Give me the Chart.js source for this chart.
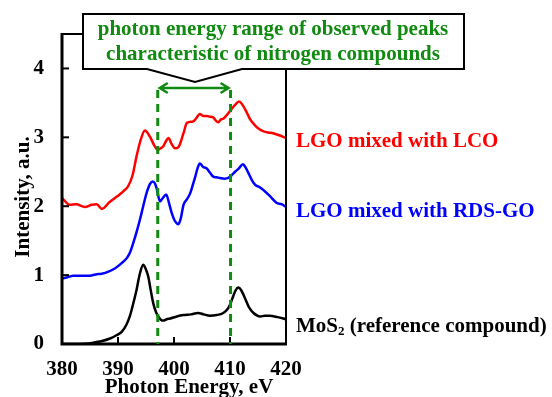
<!DOCTYPE html>
<html>
<head>
<meta charset="utf-8">
<script src="https://cdn.jsdelivr.net/npm/chart.js@4.4.1/dist/chart.umd.min.js"></script>
<style>
  html, body { margin: 0; padding: 0; background: #fff; }
  #wrap { width: 552px; height: 397px; position: relative; }
</style>
</head>
<body>
<div id="wrap"><canvas id="chart"></canvas></div>
<script>
// Data
let energyLco = [380, 381.4, 382.5, 384.1, 385.3, 386.2, 387.1, 388.5, 389.8, 391.0, 391.8, 392.6, 393.3, 394.0, 394.8, 395.7, 396.5, 397.1, 397.6, 398.1, 398.6, 399.0, 399.6, 400.2, 400.8, 401.7, 402.3, 403.4, 404.0, 404.6, 405.2, 405.8, 406.4, 407.0, 407.5, 407.9, 408.4, 408.8, 409.4, 410.0, 410.9, 411.6, 412.4, 413.0, 413.6, 414.5, 415.2, 415.9, 416.8, 417.7, 418.8, 420];
let intensityLco = [2.12, 2.02, 2.03, 1.99, 2.02, 2.03, 1.96, 2.06, 2.14, 2.22, 2.29, 2.45, 2.72, 2.95, 3.10, 3.01, 2.88, 2.82, 2.84, 2.87, 2.95, 2.99, 2.90, 2.84, 2.86, 3.06, 3.21, 3.23, 3.28, 3.34, 3.31, 3.31, 3.30, 3.29, 3.24, 3.22, 3.26, 3.27, 3.32, 3.38, 3.47, 3.52, 3.45, 3.36, 3.26, 3.17, 3.12, 3.09, 3.07, 3.06, 3.03, 2.99];

let energyRds = [380, 381, 382, 383.5, 385, 386, 387.1, 388.3, 389.5, 390.6, 391.6, 392.2, 392.7, 393.3, 393.9, 394.5, 395.1, 395.7, 396.2, 396.6, 396.9, 397.5, 398.0, 398.6, 399.1, 399.6, 400.2, 400.8, 401.2, 401.7, 402.3, 402.9, 403.4, 403.8, 404.2, 404.6, 405.2, 405.8, 406.4, 407.0, 407.6, 408.2, 409.0, 409.7, 410.3, 410.9, 411.6, 412.3, 412.8, 413.3, 413.9, 414.5, 415.2, 415.9, 417.1, 418.3, 419.2, 420];
let intensityRds = [0.95, 0.97, 0.99, 0.99, 0.99, 1.01, 1.02, 1.05, 1.10, 1.17, 1.25, 1.34, 1.46, 1.62, 1.80, 2.00, 2.19, 2.32, 2.36, 2.33, 2.26, 2.07, 2.12, 2.17, 2.05, 1.90, 1.78, 1.74, 1.82, 2.02, 2.10, 2.19, 2.32, 2.43, 2.55, 2.62, 2.57, 2.55, 2.49, 2.43, 2.42, 2.41, 2.40, 2.41, 2.45, 2.50, 2.55, 2.61, 2.56, 2.48, 2.38, 2.31, 2.28, 2.24, 2.15, 2.05, 2.03, 1.99];

let energyMos2 = [380, 382, 384, 385.6, 387, 388.6, 389.8, 390.7, 391.5, 392.1, 392.7, 393.3, 393.9, 394.5, 394.9, 395.4, 395.8, 396.3, 396.8, 397.2, 397.7, 398.1, 398.7, 399.3, 400.5, 401.7, 403.0, 404.3, 405.3, 406.4, 407.6, 408.8, 409.5, 410.0, 410.6, 411.0, 411.5, 412.0, 412.7, 413.4, 414.2, 415.4, 416.2, 417.1, 418.5, 420];
let intensityMos2 = [0, 0, 0.005, 0.02, 0.04, 0.08, 0.13, 0.18, 0.28, 0.40, 0.58, 0.78, 1.02, 1.15, 1.10, 0.98, 0.80, 0.59, 0.46, 0.40, 0.35, 0.34, 0.36, 0.37, 0.40, 0.42, 0.43, 0.45, 0.43, 0.41, 0.42, 0.45, 0.50, 0.57, 0.70, 0.78, 0.82, 0.78, 0.66, 0.53, 0.45, 0.40, 0.41, 0.41, 0.39, 0.36];

let seriesNames = ['LGO mixed with LCO', 'LGO mixed with RDS-GO', 'MoS'];
let xTicks = [380, 390, 400, 410, 420];
let yTicks = [0, 1, 2, 3, 4];
let rangeLimits = [397.1, 410.1];   // dashed lines, eV
let calloutLines = ['photon energy range of observed peaks', 'characteristic of nitrogen compounds'];

let green = '#118a11';
let font = 'bold 21px "Liberation Serif", "Times New Roman", serif';

function toPoints(xs, ys) {
  return xs.map((x, i) => ({ x: x, y: ys[i] }));
}

//==========================================
//  Frame, ticks, callout and labels
//==========================================
let decorPlugin = {
  id: 'decor',
  afterDraw(chart) {
    let c = chart.ctx;
    let a = chart.chartArea;
    let xs = chart.scales.x;
    let ys = chart.scales.y;
    c.save();

    // frame
    c.strokeStyle = '#000';
    c.lineWidth = 2;
    c.beginPath();
    c.moveTo(a.left, a.top);
    c.lineTo(a.right, a.top);
    c.lineTo(a.right, a.bottom);
    c.stroke();
    c.lineWidth = 3;
    c.beginPath();
    c.moveTo(a.left, a.top - 1);
    c.lineTo(a.left, a.bottom);
    c.lineTo(a.right + 1, a.bottom);
    c.stroke();

    // inward ticks
    c.lineWidth = 2;
    yTicks.forEach(v => {
      let y = ys.getPixelForValue(v);
      c.beginPath(); c.moveTo(a.left, y); c.lineTo(a.left + 7, y); c.stroke();
    });
    xTicks.forEach(v => {
      let x = xs.getPixelForValue(v);
      c.beginPath(); c.moveTo(x, a.bottom); c.lineTo(x, a.bottom - 7); c.stroke();
    });

    // dashed range lines
    let x1 = xs.getPixelForValue(rangeLimits[0]);
    let x2 = xs.getPixelForValue(rangeLimits[1]);
    c.strokeStyle = green;
    c.lineWidth = 3;
    c.setLineDash([8, 6]);
    [x1, x2].forEach(x => {
      c.beginPath(); c.moveTo(x, 90); c.lineTo(x, a.bottom); c.stroke();
    });
    c.setLineDash([]);

    // double arrow
    let ay = 88;
    c.lineWidth = 2.5;
    c.beginPath();
    c.moveTo(x1 + 2, ay); c.lineTo(x2 - 2, ay);
    c.moveTo(x1 + 10, ay - 5); c.lineTo(x1 + 2, ay); c.lineTo(x1 + 10, ay + 5);
    c.moveTo(x2 - 10, ay - 5); c.lineTo(x2 - 2, ay); c.lineTo(x2 - 10, ay + 5);
    c.stroke();

    // callout box
    c.fillStyle = '#fff';
    c.strokeStyle = '#000';
    c.lineWidth = 2;
    c.beginPath();
    c.moveTo(83, 14);
    c.lineTo(464, 14);
    c.lineTo(464, 69);
    c.lineTo(242, 69);
    c.lineTo(195, 82);
    c.lineTo(147, 69);
    c.lineTo(83, 69);
    c.closePath();
    c.fill();
    c.stroke();

    c.font = font;
    c.textBaseline = 'middle';
    c.textAlign = 'center';
    c.fillStyle = green;
    c.fillText(calloutLines[0], 273, 30);
    c.fillText(calloutLines[1], 273, 55);

    // series labels
    c.textAlign = 'left';
    c.fillStyle = '#ff0000';
    c.fillText(seriesNames[0], 296, 142);
    c.fillStyle = '#0000ff';
    c.fillText(seriesNames[1], 296, 212);
    c.fillStyle = '#000';
    c.fillText(seriesNames[2], 296, 327);
    let w = c.measureText(seriesNames[2]).width;
    c.font = 'bold 13px "Liberation Serif", serif';
    c.fillText('2', 296 + w, 332);
    let w2 = c.measureText('2').width;
    c.font = font;
    c.fillText(' (reference compound)', 296 + w + w2, 327);

    // axis titles
    c.textAlign = 'center';
    c.fillText('Photon Energy, eV', 189, 388);
    c.translate(24, 197);
    c.rotate(-Math.PI / 2);
    c.fillText('Intensity, a.u.', 0, 0);

    c.restore();
  }
};

function lineSet(label, xs, ys, color) {
  return {
    label: label,
    data: toPoints(xs, ys),
    borderColor: color,
    borderWidth: 2.5,
    pointRadius: 0,
    cubicInterpolationMode: 'monotone',
    fill: false
  };
}

let ctx = document.getElementById('chart');

let chart = new Chart(ctx, {
  type: 'line',
  data: {
    datasets: [
      lineSet(seriesNames[0], energyLco, intensityLco, '#ff0000'),
      lineSet(seriesNames[1], energyRds, intensityRds, '#0000ff'),
      lineSet('MoS2', energyMos2, intensityMos2, '#000000')
    ]
  },
  options: {
    responsive: true,
    maintainAspectRatio: false,
    animation: false,
    layout: { padding: { top: 34, right: 266, left: 0, bottom: 0 } },
    plugins: {
      legend: { display: false },
      tooltip: { enabled: false }
    },
    scales: {
      x: {
        type: 'linear',
        min: 380,
        max: 420,
        afterFit: s => { s.height = 53; },
        afterBuildTicks: s => { s.ticks = xTicks.map(v => ({ value: v })); },
        grid: { display: false, drawTicks: false },
        border: { display: false },
        ticks: { color: '#000', font: { family: '"Liberation Serif", serif', size: 21, weight: 'bold' }, padding: 13, maxRotation: 0 }
      },
      y: {
        min: 0,
        max: 4.5,
        afterFit: s => { s.width = 62; },
        afterBuildTicks: s => { s.ticks = yTicks.map(v => ({ value: v })); },
        grid: { display: false, drawTicks: false },
        border: { display: false },
        ticks: { color: '#000', font: { family: '"Liberation Serif", serif', size: 21, weight: 'bold' }, padding: 18 }
      }
    }
  },
  plugins: [decorPlugin]
});
</script>
</body>
</html>
